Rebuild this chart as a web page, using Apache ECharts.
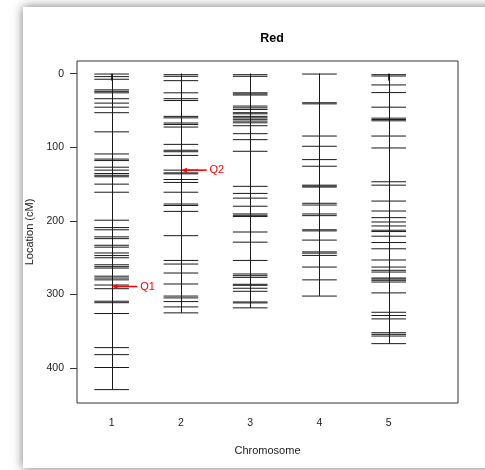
<!DOCTYPE html>
<html>
<head>
<meta charset="utf-8">
<script src="https://cdn.jsdelivr.net/npm/echarts@6/dist/echarts.min.js"></script>
<style>
html,body{margin:0;padding:0;background:#fff;}
#chart{width:485px;height:470px;}
</style>
</head>
<body>
<div id="chart"></div>
<script>
const chromosomes = [1, 2, 3, 4, 5];
const chr1 = [0.5, 4, 7.6, 22, 24, 26, 34, 40, 45.5, 53, 79, 109, 116, 118, 127, 131, 135.6, 138, 140, 150, 161, 199, 209, 212, 221.6, 224, 233, 235.6, 243.5, 247, 250, 259.5, 262, 264, 275, 277.5, 280, 287, 292, 309, 311, 325.7, 372, 381.5, 399, 429];
const chr2 = [1.4, 3.6, 9.5, 26, 34, 36.5, 58, 60, 67, 69, 72.5, 96, 104, 106, 111, 131, 134.7, 136, 143.7, 147.7, 161, 177, 179, 187, 220, 253.6, 258.5, 270.7, 285.6, 302, 304.5, 309.5, 316.7, 324.8];
const chr3 = [1.4, 3.6, 26, 27.5, 29, 44, 46.4, 48.6, 53, 54.5, 58, 60, 62, 64.4, 66.7, 70.7, 81.5, 89.6, 105.4, 153, 162.6, 169, 180, 190.5, 192.3, 194, 215, 228.8, 253.6, 272, 274.3, 276.6, 286, 287.4, 291.4, 295.5, 310, 311.3, 318];
const chr4 = [0.5, 39.5, 41, 84.7, 98.6, 116.7, 125.7, 151.4, 152.7, 154, 176, 178.4, 190.5, 192.8, 212, 213.5, 226, 242, 243.7, 246.8, 262.6, 280, 302];
const chr5 = [1.4, 3.2, 15.3, 25.7, 45.5, 60.4, 62.2, 64, 84.7, 100.9, 146.8, 151.4, 173, 186.5, 195.5, 201.4, 206.8, 212.6, 214.4, 220.7, 229.3, 237.8, 253, 262.6, 267, 269.4, 277.5, 278.8, 280.6, 282.9, 297.7, 324, 328.4, 333, 351.8, 354, 356.3, 366.6];
const qtlNames = ['Q1', 'Q2'];
const qtlChr = [1, 2];
const qtlPos = [289, 131];
const yTicks = [0, 100, 200, 300, 400];

const markerLists = [chr1, chr2, chr3, chr4, chr5];
const markerData = [];
markerLists.forEach((arr, i) => arr.forEach(p => markerData.push([chromosomes[i], p])));
const chrData = markerLists.map((arr, i) => [chromosomes[i], Math.max.apply(null, arr)]);
const qtlData = qtlNames.map((n, i) => [qtlChr[i], qtlPos[i], n]);

const HALF = 0.25;
const LINE = '#1a1a1a';

const chart = echarts.init(document.getElementById('chart'), null, {renderer: 'canvas'});
chart.setOption({
  animation: false,
  backgroundColor: '#fff',
  graphic: [{
    type: 'rect', z: -100, silent: true,
    shape: {x: 23, y: 7, width: 480, height: 461},
    style: {fill: '#fff', shadowBlur: 10, shadowColor: 'rgba(0,0,0,0.55)'}
  }],
  title: {
    text: 'Red', left: 267, top: 27, textAlign: 'center',
    textStyle: {fontFamily: 'Liberation Sans', fontWeight: 'bold', fontSize: 12.5, color: '#000'}
  },
  grid: {left: 77, top: 61, width: 381, height: 342, show: true, borderColor: '#333', borderWidth: 1, backgroundColor: 'transparent'},
  xAxis: {
    type: 'value', min: 0.5, max: 6,
    name: 'Chromosome', nameLocation: 'middle', nameGap: 42,
    nameTextStyle: {fontFamily: 'Liberation Sans', fontSize: 11, color: '#222'},
    axisLine: {show: false},
    axisTick: {show: true, length: 7, lineStyle: {color: '#333'}, customValues: chromosomes},
    axisLabel: {fontFamily: 'Liberation Sans', fontSize: 10.5, color: '#222', margin: 15, customValues: chromosomes},
    splitLine: {show: false}
  },
  yAxis: {
    type: 'value', inverse: true, min: -17.2, max: 447.2,
    name: 'Location (cM)', nameLocation: 'middle', nameGap: 42, nameRotate: 90,
    nameTextStyle: {fontFamily: 'Liberation Sans', fontSize: 11, color: '#222'},
    axisLine: {show: false},
    axisTick: {show: true, length: 7, lineStyle: {color: '#333'}, customValues: yTicks},
    axisLabel: {fontFamily: 'Liberation Sans', fontSize: 10.5, color: '#222', margin: 13, customValues: yTicks},
    splitLine: {show: false}
  },
  series: [
    {
      type: 'custom', data: chrData, z: 2,
      renderItem: (params, api) => {
        const a = api.coord([api.value(0), 0]);
        const b = api.coord([api.value(0), api.value(1)]);
        return {type: 'line', shape: {x1: Math.round(a[0]) + 0.5, y1: a[1], x2: Math.round(b[0]) + 0.5, y2: b[1]}, style: {stroke: LINE, lineWidth: 1}};
      }
    },
    {
      type: 'custom', data: markerData, z: 3,
      renderItem: (params, api) => {
        const a = api.coord([api.value(0) - HALF, api.value(1)]);
        const b = api.coord([api.value(0) + HALF, api.value(1)]);
        return {type: 'line', shape: {x1: a[0], y1: a[1], x2: b[0], y2: b[1]}, style: {stroke: LINE, lineWidth: 1}};
      }
    },
    {
      type: 'custom', data: qtlData, z: 5,
      renderItem: (params, api) => {
        const tip = api.coord([api.value(0), api.value(1)]);
        const tail = api.coord([api.value(0) + 0.37, api.value(1)]);
        const name = qtlNames[params.dataIndex];
        return {
          type: 'group',
          children: [
            {type: 'line', shape: {x1: tip[0] + 3, y1: tip[1], x2: tail[0], y2: tail[1]}, style: {stroke: '#ff0000', lineWidth: 1.6}},
            {type: 'polygon', shape: {points: [[tip[0], tip[1]], [tip[0] + 6, tip[1] - 2.5], [tip[0] + 6, tip[1] + 2.5]]}, style: {fill: '#ff0000'}},
            {type: 'text', style: {text: name, x: tail[0] + 3, y: tail[1], verticalAlign: 'middle', align: 'left', fill: '#ff0000', fontFamily: 'Liberation Sans', fontSize: 11}}
          ]
        };
      }
    }
  ]
});
</script>
</body>
</html>
